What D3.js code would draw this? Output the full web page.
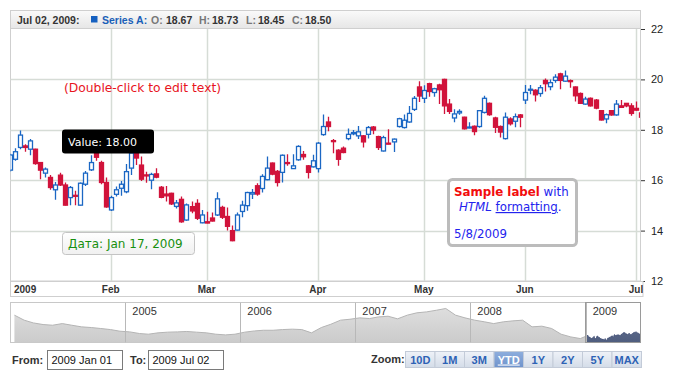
<!DOCTYPE html>
<html>
<head>
<meta charset="utf-8">
<script src="https://cdn.jsdelivr.net/npm/d3@7"></script>
<style>
    body { margin: 0; background: #fff; }
    svg text { font-family: "Liberation Sans", Arial, sans-serif; }
    svg text.note { font-family: "DejaVu Sans", Verdana, sans-serif; }
</style>
</head>
<body>
<div id="chart"></div>
<script>
// trading days shown in the main plot (YTD 2009)
var dates = [
    "2009-01-02","2009-01-05","2009-01-06","2009-01-07","2009-01-08","2009-01-09","2009-01-12","2009-01-13","2009-01-14","2009-01-15",
    "2009-01-16","2009-01-20","2009-01-21","2009-01-22","2009-01-23","2009-01-26","2009-01-27","2009-01-28","2009-01-29","2009-01-30",
    "2009-02-02","2009-02-03","2009-02-04","2009-02-05","2009-02-06","2009-02-09","2009-02-10","2009-02-11","2009-02-12","2009-02-13",
    "2009-02-17","2009-02-18","2009-02-19","2009-02-20","2009-02-23","2009-02-24","2009-02-25","2009-02-26","2009-02-27",
    "2009-03-02","2009-03-03","2009-03-04","2009-03-05","2009-03-06","2009-03-09","2009-03-10","2009-03-11","2009-03-12","2009-03-13",
    "2009-03-16","2009-03-17","2009-03-18","2009-03-19","2009-03-20","2009-03-23","2009-03-24","2009-03-25","2009-03-26","2009-03-27",
    "2009-03-30","2009-03-31",
    "2009-04-01","2009-04-02","2009-04-03","2009-04-06","2009-04-07","2009-04-08","2009-04-09","2009-04-13","2009-04-14","2009-04-15",
    "2009-04-16","2009-04-17","2009-04-20","2009-04-21","2009-04-22","2009-04-23","2009-04-24","2009-04-27","2009-04-28","2009-04-29",
    "2009-04-30",
    "2009-05-01","2009-05-04","2009-05-05","2009-05-06","2009-05-07","2009-05-08","2009-05-11","2009-05-12","2009-05-13","2009-05-14",
    "2009-05-15","2009-05-18","2009-05-19","2009-05-20","2009-05-21","2009-05-22","2009-05-26","2009-05-27","2009-05-28","2009-05-29",
    "2009-06-01","2009-06-02","2009-06-03","2009-06-04","2009-06-05","2009-06-08","2009-06-09","2009-06-10","2009-06-11","2009-06-12",
    "2009-06-15","2009-06-16","2009-06-17","2009-06-18","2009-06-19","2009-06-22","2009-06-23","2009-06-24","2009-06-25","2009-06-26",
    "2009-06-29","2009-06-30",
    "2009-07-01","2009-07-02"
];

var open = [
    16.40,16.83,17.30,17.36,17.23,17.23,16.70,16.28,16.11,15.62, 16.20,15.81,15.31,15.40,15.01,15.84,16.41,17.30,16.70,15.91,
    14.82,15.44,15.68,15.54,16.48,17.10,16.60,16.21,16.00,16.25, 15.72,15.45,15.48,14.96,15.24,14.42,14.95,15.08,14.31,
    14.35,14.50,14.62,14.92,14.56,14.00,14.02,14.76,14.99,15.45, 15.78,15.67,16.02,16.68,16.35,16.31,16.70,16.46,16.81,17.02,16.57,16.53,
    16.46,17.81,18.31,17.57,17.19,17.27,17.65,17.84,17.76,17.76, 17.82,18.11,17.73,17.16,17.47,17.52,18.13,18.09,18.31,18.81,19.70,
    19.25,19.83,19.48,19.78,20.00,19.02,18.47,18.67,18.50,18.08, 18.14,18.13,18.69,19.05,18.47,18.13,17.65,18.43,18.34,18.59,
    19.18,19.57,19.57,19.44,19.96,19.71,19.96,20.22,19.93,19.95, 19.70,19.44,19.02,19.25,19.18,18.76,18.43,18.76,18.59,18.95,19.05,18.95,
    18.85,18.67
];
var high = [
    17.05,17.27,17.97,17.43,17.63,17.25,16.72,16.50,16.21,15.93, 16.30,15.91,15.77,15.58,15.91,16.37,16.99,17.45,16.77,16.11,
    15.38,15.75,15.97,16.64,17.33,17.20,16.94,16.34,16.30,16.47, 15.77,15.77,15.50,15.21,15.35,15.08,15.15,15.24,14.82,
    14.75,14.72,15.52,14.99,14.92,14.20,14.72,15.18,15.54,15.65, 15.88,16.24,16.94,16.70,16.40,17.02,17.03,17.03,17.39,17.16,16.60,17.01,
    17.52,18.61,18.52,17.63,17.23,17.34,18.05,17.99,18.15,17.79, 18.15,18.15,17.76,17.76,18.02,17.65,18.48,18.61,18.94,19.34,19.93,
    19.77,19.87,19.67,19.83,20.03,19.22,18.82,18.82,18.52,18.30, 18.17,18.78,19.35,19.08,18.52,18.17,18.69,18.50,18.65,18.63,
    19.78,19.78,19.61,19.78,20.04,20.00,20.20,20.26,20.35,20.00, 19.72,19.48,19.31,19.28,19.22,18.78,18.65,18.78,19.18,19.18,19.06,19.05,
    19.12,18.73
];
var low = [
    16.35,16.77,17.23,17.13,16.99,16.61,16.04,16.11,15.62,15.22, 15.77,15.00,15.01,15.01,15.00,15.77,16.37,16.77,15.84,14.91,
    14.78,15.35,15.38,15.48,16.21,16.60,15.97,15.90,15.64,16.08, 15.28,15.15,15.02,14.88,14.31,14.39,14.69,14.42,14.29,
    14.29,14.36,14.58,14.46,14.00,13.58,14.00,14.53,14.79,15.25, 15.38,15.51,16.00,16.20,15.75,15.91,16.57,16.44,16.77,16.81,16.07,16.50,
    16.31,17.76,17.94,17.07,16.57,17.07,17.59,17.78,17.63,17.30, 17.65,17.82,17.20,17.14,17.43,17.12,18.09,18.05,18.28,18.75,19.10,
    19.06,19.31,19.31,19.02,18.63,18.63,18.30,18.60,18.01,18.06, 17.78,18.08,18.65,18.56,17.87,17.69,17.62,18.17,18.10,18.10,
    19.02,19.41,19.12,19.31,19.52,19.57,19.87,19.61,19.91,19.67, 19.12,19.02,18.99,18.92,18.82,18.37,18.26,18.56,18.56,18.88,18.89,18.56,
    18.76,18.45
];
var close = [
    17.00,17.13,17.79,17.30,17.56,16.66,16.40,16.44,15.71,15.81, 15.81,15.01,15.71,15.37,15.88,16.28,16.70,16.91,15.91,14.94,
    15.31,15.62,15.84,16.34,17.08,16.88,16.04,16.17,16.23,16.12, 15.32,15.38,15.06,15.10,14.35,15.02,14.78,14.49,14.62,
    14.30,14.38,15.26,14.53,14.17,13.60,14.62,15.01,15.51,15.51, 15.45,16.15,16.48,16.24,15.91,16.99,16.66,16.57,17.34,16.93,16.31,16.77,
    17.47,18.13,18.13,17.53,16.83,17.10,17.82,17.89,17.92,17.52, 18.09,17.99,17.30,17.69,17.44,17.63,18.44,18.38,18.65,19.25,19.34,
    19.56,19.52,19.63,19.59,18.95,18.73,18.63,18.73,18.04,18.11, 17.93,18.76,19.25,18.60,18.10,17.91,18.50,18.24,18.52,18.50,
    19.48,19.61,19.39,19.67,19.83,19.87,20.09,19.96,20.13,19.91, 19.35,19.05,19.22,18.95,18.86,18.39,18.60,18.59,19.02,18.89,18.95,18.65,
    18.78,18.50
];

// monthly history for the scroller, Jan 2004 .. Dec 2008
var historyStart = "2004-01-15";
var historyValues = [
    32.5,28.8,26.8,25.6,25.1,26.3,25.1,23.9,23.4,22.7,21.9,20.7,
    20.2,19.0,18.5,19.5,20.0,20.2,20.5,20.0,19.5,18.5,18.0,18.5,
    20.0,20.9,21.4,21.4,21.9,22.2,21.9,19.5,23.4,25.8,28.8,29.5,
    30.5,30.0,31.2,31.7,29.8,32.5,34.2,34.9,36.1,37.4,32.5,30.5,
    28.8,27.6,26.3,27.6,28.3,28.8,23.9,24.4,22.7,18.5,16.5,15.3
];

var yTicks = [12, 14, 16, 18, 20, 22];
var scrollerYears = [2005, 2006, 2007, 2008, 2009];
var zoomButtons = ["10D", "1M", "3M", "YTD", "1Y", "2Y", "5Y", "MAX"];
var selectedButton = "YTD";
var seriesName = "Series A";

var W = 700, H = 380;
var plot = {left: 10.5, right: 640.5, top: 28.5, bottom: 281};
var parseDate = d3.timeParse("%Y-%m-%d");
var blue = "#1b67c4", red = "#d1133b";

var data = dates.map(function(d, i) {
    return {key: d, date: parseDate(d), open: open[i], high: high[i], low: low[i], close: close[i]};
});

var svg = d3.select("#chart").append("svg")
    .attr("width", W)
    .attr("height", H);

var defs = svg.append("defs");
defs.append("clipPath").attr("id", "plotClip")
    .append("rect")
    .attr("x", plot.left).attr("y", plot.top)
    .attr("width", plot.right - plot.left).attr("height", plot.bottom - plot.top);
defs.append("clipPath").attr("id", "stripClip")
    .append("rect")
    .attr("x", plot.left).attr("y", 281)
    .attr("width", 643 - plot.left).attr("height", 16);

function vGrad(id, c1, c2) {
    var g = defs.append("linearGradient").attr("id", id)
        .attr("x1", 0).attr("y1", 0).attr("x2", 0).attr("y2", 1);
    g.append("stop").attr("offset", "0%").attr("stop-color", c1);
    g.append("stop").attr("offset", "100%").attr("stop-color", c2);
}
vGrad("headGrad", "#fafafa", "#e6e6e6");
vGrad("btnGrad", "#eef2f8", "#d4dce8");
vGrad("selBtnGrad", "#8eaedd", "#6f93cc");
vGrad("areaGrad", "#dedede", "#cbcbcb");
vGrad("selAreaGrad", "#6a7898", "#4f5d7e");
vGrad("tipGrad", "#ffffff", "#f0f0f0");

// scales
var x = d3.scalePoint()
    .domain(dates)
    .range([9.7, 641]);

var y = d3.scaleLinear()
    .domain([12, 22])
    .range([plot.bottom, 29]);

// plot background
svg.append("rect")
    .attr("x", plot.left).attr("y", plot.top)
    .attr("width", plot.right - plot.left).attr("height", plot.bottom - plot.top)
    .style("fill", "#fff")
    .style("stroke", "#cfcfcf");

// month starts
var monthStarts = data.filter(function(d, i) {
    return i === 0 || d.date.getMonth() !== data[i - 1].date.getMonth();
});

var grid = svg.append("g").attr("class", "grid");
grid.selectAll("line.h")
    .data(yTicks.slice(1, -1))
    .enter().append("line")
    .attr("x1", plot.left).attr("x2", plot.right)
    .attr("y1", function(d) { return Math.round(y(d)) + 0.5; })
    .attr("y2", function(d) { return Math.round(y(d)) + 0.5; })
    .style("stroke", "#d6dcd6").style("stroke-width", 1.5);

grid.selectAll("line.v")
    .data(monthStarts.slice(1))
    .enter().append("line")
    .attr("x1", function(d) { return Math.round(x(d.key)) + 0.5; })
    .attr("x2", function(d) { return Math.round(x(d.key)) + 0.5; })
    .attr("y1", plot.top).attr("y2", plot.bottom)
    .style("stroke", "#d6dcd6").style("stroke-width", 1.5);

// candles
var candles = svg.append("g").attr("clip-path", "url(#plotClip)")
    .selectAll("g.candle")
    .data(data)
    .enter().append("g")
    .attr("class", "candle");

candles.append("line")
    .attr("x1", function(d) { return Math.round(x(d.key)) + 0.5; })
    .attr("x2", function(d) { return Math.round(x(d.key)) + 0.5; })
    .attr("y1", function(d) { return y(d.high); })
    .attr("y2", function(d) { return y(d.low); })
    .style("stroke", function(d) { return d.close >= d.open ? blue : red; })
    .style("stroke-width", 1.3);

candles.append("rect")
    .attr("x", function(d) { return Math.round(x(d.key)) - 1.5; })
    .attr("width", 4)
    .attr("y", function(d) { return y(Math.max(d.open, d.close)); })
    .attr("height", function(d) { return Math.max(1, Math.abs(y(d.open) - y(d.close))); })
    .style("fill", function(d) { return d.close >= d.open ? "#fff" : red; })
    .style("stroke", function(d) { return d.close >= d.open ? blue : red; })
    .style("stroke-width", 1.3);

// header bar
svg.append("rect")
    .attr("x", plot.left).attr("y", 10.5)
    .attr("width", plot.right - plot.left).attr("height", 18)
    .style("fill", "url(#headGrad)")
    .style("stroke", "#cfcfcf");

var last = data[data.length - 1];
var fmt = d3.format(".2f");
var head = svg.append("g").style("font-size", "10.5px").style("font-weight", "bold");
head.append("text").attr("x", 17).attr("y", 23.5).style("fill", "#333")
    .text(d3.timeFormat("%b %d, %Y")(last.date) + ":");
head.append("rect").attr("x", 91).attr("y", 16).attr("width", 6.5).attr("height", 6.5).style("fill", "#1560c0");
head.append("text").attr("x", 102).attr("y", 23.5).style("fill", "#1a5fb8").text(seriesName + ":");
var headItems = [["O:", last.open, 151, 166], ["H:", last.high, 199, 212], ["L:", last.low, 246, 258], ["C:", last.close, 292, 305]];
headItems.forEach(function(h) {
    head.append("text").attr("x", h[2]).attr("y", 23.5).style("fill", "#777").text(h[0]);
    head.append("text").attr("x", h[3]).attr("y", 23.5).style("fill", "#333").text(fmt(h[1]));
});

// y axis on the right
var yAxis = d3.axisRight(y).tickValues(yTicks).tickSize(4).tickPadding(6).tickFormat(d3.format("d"));
var gY = svg.append("g")
    .attr("class", "axis axis--y")
    .attr("transform", "translate(641,0)")
    .call(yAxis);
gY.select(".domain").remove();
gY.selectAll("line").style("stroke", "#333");
gY.selectAll("text").style("font-size", "11px").style("fill", "#222");

svg.append("line")
    .attr("x1", 640.5).attr("x2", 640.5).attr("y1", 10.5).attr("y2", 297)
    .style("stroke", "#cfcfcf");

// date strip under the plot
svg.append("rect")
    .attr("x", plot.left).attr("y", 281.5)
    .attr("width", 643 - plot.left).attr("height", 15)
    .style("fill", "#fff")
    .style("stroke", "#cfcfcf");

svg.append("g").attr("clip-path", "url(#stripClip)")
    .selectAll("text")
    .data(monthStarts)
    .enter().append("text")
    .attr("x", function(d, i) { return i === 0 ? 14 : x(d.key); })
    .attr("y", 293)
    .style("text-anchor", function(d, i) { return i === 0 ? "start" : "middle"; })
    .style("font-size", "10px").style("font-weight", "bold").style("fill", "#333")
    .text(function(d) { return d.date.getMonth() === 0 ? d.date.getFullYear() : d3.timeFormat("%b")(d.date); });

// scroller
var scr = {top: 302.5, bottom: 342.5};
defs.append("clipPath").attr("id", "scrClip")
    .append("rect").attr("x", plot.left).attr("y", scr.top)
    .attr("width", plot.right - plot.left).attr("height", scr.bottom - scr.top);

var histStart = parseDate(historyStart);
var scrData = historyValues.map(function(v, i) {
    return {date: d3.timeMonth.offset(histStart, i), value: v};
}).concat(data.map(function(d) { return {date: d.date, value: d.close}; }));

var xs = d3.scaleTime()
    .domain([new Date(2004, 0, 1), new Date(2009, 6, 2)])
    .range([10, 643]);
var ys = d3.scaleLinear()
    .domain([12.4, 41.8])
    .range([scr.bottom, scr.top]);

svg.append("rect")
    .attr("x", plot.left).attr("y", scr.top)
    .attr("width", plot.right - plot.left).attr("height", scr.bottom - scr.top)
    .style("fill", "#fff").style("stroke", "#c8c8c8");

var area = d3.area()
    .x(function(d) { return xs(d.date); })
    .y0(scr.bottom)
    .y1(function(d) { return ys(d.value); });
var scrLine = d3.line()
    .x(function(d) { return xs(d.date); })
    .y(function(d) { return ys(d.value); });

var gScr = svg.append("g").attr("clip-path", "url(#scrClip)");
gScr.append("path").datum(scrData).attr("d", area).style("fill", "url(#areaGrad)");
gScr.append("path").datum(scrData).attr("d", scrLine)
    .style("fill", "none").style("stroke", "#b4b4b4").style("stroke-width", 1);

var selX = xs(new Date(2009, 0, 1));
defs.append("clipPath").attr("id", "selClip")
    .append("rect").attr("x", selX).attr("y", scr.top)
    .attr("width", plot.right - selX).attr("height", scr.bottom - scr.top);
var gSel = svg.append("g").attr("clip-path", "url(#selClip)");
gSel.append("rect").attr("x", selX).attr("y", scr.top)
    .attr("width", plot.right - selX).attr("height", scr.bottom - scr.top).style("fill", "#fff");
gSel.append("path").datum(scrData).attr("d", area).style("fill", "url(#selAreaGrad)");
gSel.append("path").datum(scrData).attr("d", scrLine)
    .style("fill", "none").style("stroke", "#47557a").style("stroke-width", 1);

var gYears = svg.append("g").attr("clip-path", "url(#scrClip)");
gYears.selectAll("line")
    .data(scrollerYears)
    .enter().append("line")
    .attr("x1", function(d) { return Math.round(xs(new Date(d, 0, 1))) + 0.5; })
    .attr("x2", function(d) { return Math.round(xs(new Date(d, 0, 1))) + 0.5; })
    .attr("y1", scr.top).attr("y2", scr.bottom)
    .style("stroke", "#b8b8b8");
gYears.selectAll("text")
    .data(scrollerYears)
    .enter().append("text")
    .attr("x", function(d) { return xs(new Date(d, 0, 1)) + 7; })
    .attr("y", 314.5)
    .style("font-size", "11px").style("fill", "#333")
    .text(function(d) { return d; });

svg.append("rect")
    .attr("x", Math.round(selX) - 0.5).attr("y", scr.top)
    .attr("width", plot.right - Math.round(selX) + 0.5).attr("height", scr.bottom - scr.top)
    .style("fill", "none").style("stroke", "#9a9a9a");

// range inputs
var ctl = svg.append("g").style("font-size", "11px");
function inputBox(label, lx, bx, value) {
    ctl.append("text").attr("x", lx).attr("y", 364).style("font-weight", "bold").style("fill", "#333").text(label);
    ctl.append("rect").attr("x", bx).attr("y", 350.5).attr("width", 75).attr("height", 19)
        .style("fill", "#fff").style("stroke", "#7a7a7a");
    ctl.append("text").attr("x", bx + 4).attr("y", 364).style("fill", "#111").text(value);
}
inputBox("From:", 12, 47.5, d3.timeFormat("%Y %b %d")(new Date(2009, 0, 1)));
inputBox("To:", 130, 148.5, d3.timeFormat("%Y %b %d")(last.date));

ctl.append("text").attr("x", 371).attr("y", 363).style("font-weight", "bold").style("fill", "#333").text("Zoom:");
var bw = 29.5;
var btn = ctl.selectAll("g.btn")
    .data(zoomButtons)
    .enter().append("g")
    .attr("transform", function(d, i) { return "translate(" + (405.5 + i * bw) + ",351.5)"; });
btn.append("rect")
    .attr("width", bw).attr("height", 16)
    .style("fill", function(d) { return d === selectedButton ? "url(#selBtnGrad)" : "url(#btnGrad)"; })
    .style("stroke", "#c3cbd8");
btn.append("text")
    .attr("x", bw / 2).attr("y", 12)
    .style("text-anchor", "middle")
    .style("font-size", "11px").style("font-weight", "bold")
    .style("fill", function(d) { return d === selectedButton ? "#fff" : "#2d62b5"; })
    .style("text-decoration", function(d) { return d === selectedButton ? "underline" : "none"; })
    .text(function(d) { return d; });

// annotations
svg.append("text").attr("class", "note")
    .attr("x", 64).attr("y", 92)
    .style("font-size", "12.3px").style("fill", "#e8141e")
    .text("(Double-click to edit text)");

svg.append("rect")
    .attr("x", 62).attr("y", 129.5).attr("width", 92).attr("height", 24).attr("rx", 3)
    .style("fill", "#000");
svg.append("text").attr("class", "note")
    .attr("x", 68).attr("y", 146)
    .style("font-size", "11px").style("fill", "#fff")
    .text("Value: " + fmt(18));

svg.append("rect")
    .attr("x", 62.5).attr("y", 232.5).attr("width", 132).attr("height", 22).attr("rx", 3)
    .style("fill", "url(#tipGrad)").style("stroke", "#c4c4c4");
svg.append("text").attr("class", "note")
    .attr("x", 68).attr("y", 248)
    .style("font-size", "12px").style("fill", "#17900f")
    .text("Дата: " + d3.timeFormat("%b %d, %Y")(new Date(2009, 0, 17)));

svg.append("rect")
    .attr("x", 448.5).attr("y", 179.5).attr("width", 128).attr("height", 66).attr("rx", 4)
    .style("fill", "#fff").style("stroke", "#bcbcbc").style("stroke-width", 3);
var lbl = svg.append("text").attr("class", "note").style("font-size", "11.8px").style("fill", "#2323ee");
var l1 = lbl.append("tspan").attr("x", 454).attr("y", 196);
l1.append("tspan").style("font-weight", "bold").style("fill", "#f20d0d").text("Sample label");
l1.append("tspan").text(" with");
var l2 = lbl.append("tspan").attr("x", 459).attr("y", 211);
l2.append("tspan").style("font-style", "italic").text("HTML");
l2.append("tspan").text(" ");
l2.append("tspan").style("text-decoration", "underline").text("formatting");
l2.append("tspan").text(".");
lbl.append("tspan").attr("x", 454).attr("y", 238).text("5/8/2009");
</script>
</body>
</html>
